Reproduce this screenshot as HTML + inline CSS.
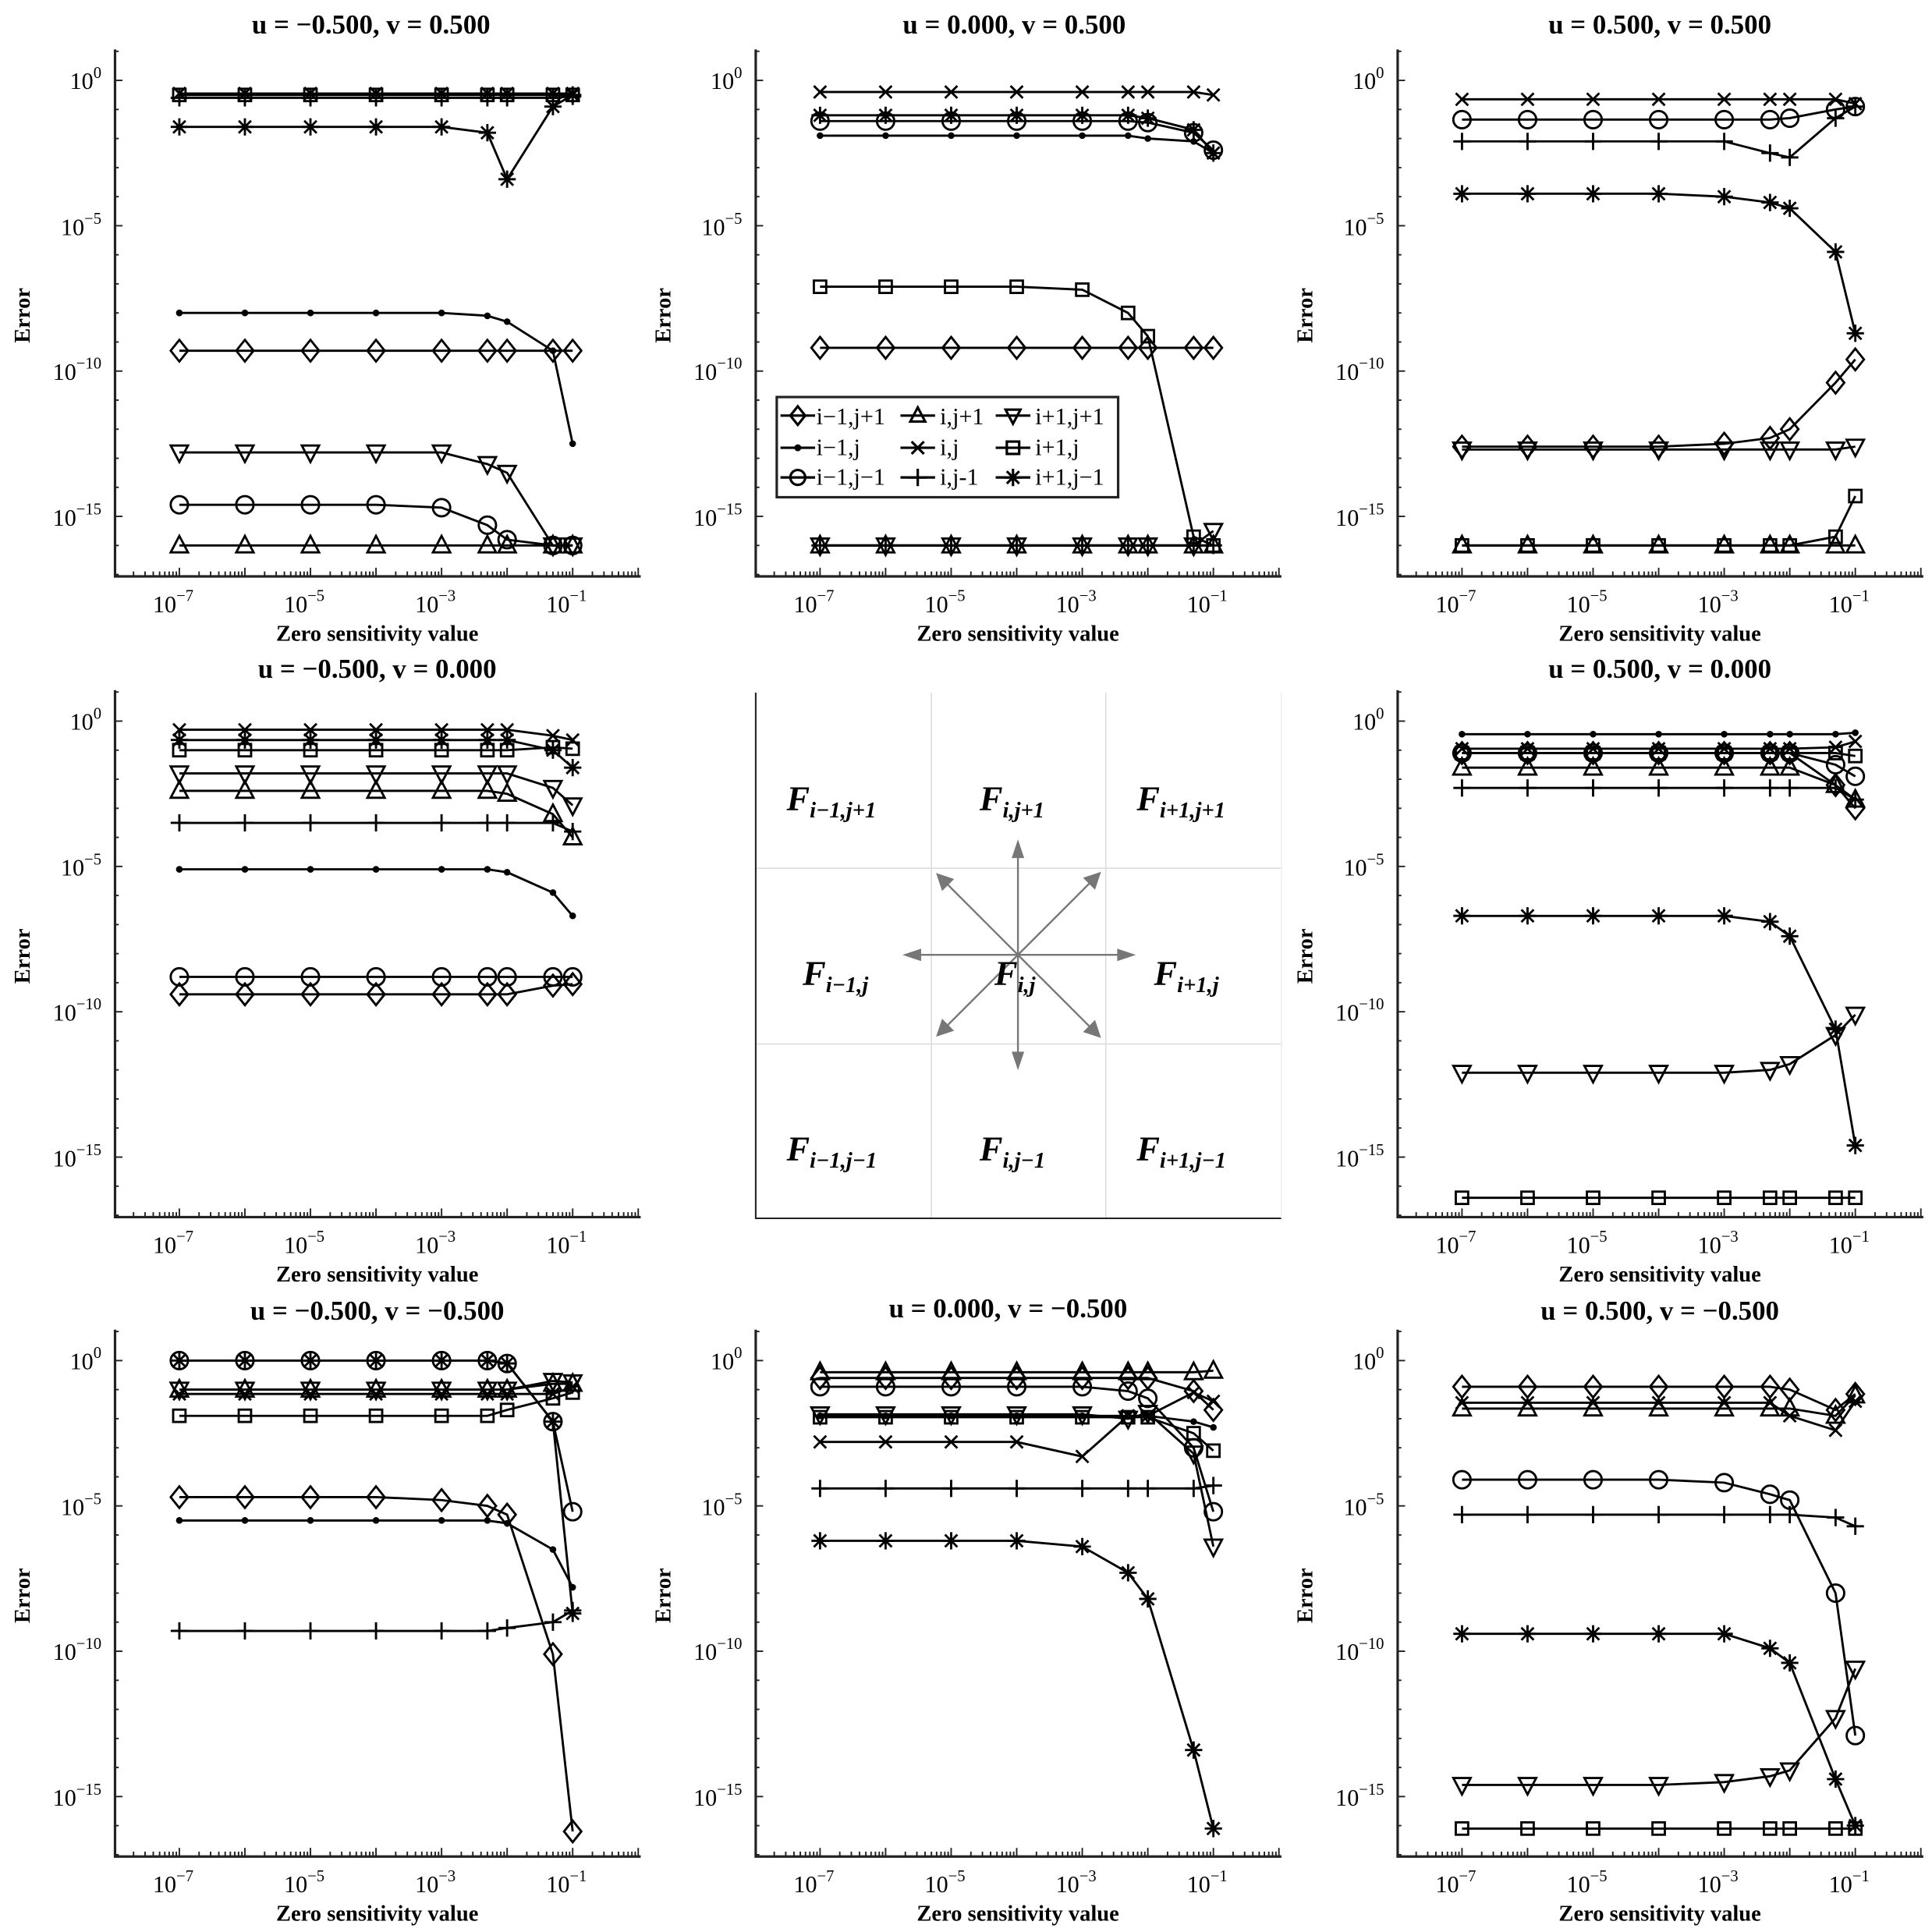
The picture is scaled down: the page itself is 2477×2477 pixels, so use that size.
<!DOCTYPE html>
<html><head><meta charset="utf-8"><style>
html,body{margin:0;padding:0;background:#fff}
svg{display:block}
text{font-family:"Liberation Serif",serif;fill:#000}
.t{font-weight:bold;font-size:22px}
.xl{font-weight:bold;font-size:18px}
.tk{font-size:19px}
.sp{font-size:13px}
.lg{font-size:19px}
.F{font-size:28px;font-weight:bold;font-style:italic}
.Fs{font-size:18px;font-style:italic;font-weight:bold}
</style></head><body>
<svg id="s" width="2477" height="2477" viewBox="0 0 1562 1562" xmlns="http://www.w3.org/2000/svg">
<rect width="1562" height="1562" fill="#fff"/>
<g id="axes"></g>
<g id="series"></g>

<g>
<text class="t" x="300" y="27" text-anchor="middle">u = −0.500, v = 0.500</text>
<text class="xl" x="305" y="518" text-anchor="middle">Zero sensitivity value</text>
<text class="xl" transform="translate(24,255) rotate(-90)" text-anchor="middle">Error</text>
<text class="tk" x="82" y="72" text-anchor="end">10<tspan class="sp" dy="-9">0</tspan></text>
<text class="tk" x="82" y="190" text-anchor="end">10<tspan class="sp" dy="-9">−5</tspan></text>
<text class="tk" x="82" y="307" text-anchor="end">10<tspan class="sp" dy="-9">−10</tspan></text>
<text class="tk" x="82" y="425" text-anchor="end">10<tspan class="sp" dy="-9">−15</tspan></text>
<text class="tk" x="140" y="495" text-anchor="middle">10<tspan class="sp" dy="-9">−7</tspan></text>
<text class="tk" x="246" y="495" text-anchor="middle">10<tspan class="sp" dy="-9">−5</tspan></text>
<text class="tk" x="352" y="495" text-anchor="middle">10<tspan class="sp" dy="-9">−3</tspan></text>
<text class="tk" x="458" y="495" text-anchor="middle">10<tspan class="sp" dy="-9">−1</tspan></text>
</g>
<g transform="translate(518,0)">
<text class="t" x="302" y="27" text-anchor="middle">u = 0.000, v = 0.500</text>
<text class="xl" x="305" y="518" text-anchor="middle">Zero sensitivity value</text>
<text class="xl" transform="translate(24,255) rotate(-90)" text-anchor="middle">Error</text>
<text class="tk" x="82" y="72" text-anchor="end">10<tspan class="sp" dy="-9">0</tspan></text>
<text class="tk" x="82" y="190" text-anchor="end">10<tspan class="sp" dy="-9">−5</tspan></text>
<text class="tk" x="82" y="307" text-anchor="end">10<tspan class="sp" dy="-9">−10</tspan></text>
<text class="tk" x="82" y="425" text-anchor="end">10<tspan class="sp" dy="-9">−15</tspan></text>
<text class="tk" x="140" y="495" text-anchor="middle">10<tspan class="sp" dy="-9">−7</tspan></text>
<text class="tk" x="246" y="495" text-anchor="middle">10<tspan class="sp" dy="-9">−5</tspan></text>
<text class="tk" x="352" y="495" text-anchor="middle">10<tspan class="sp" dy="-9">−3</tspan></text>
<text class="tk" x="458" y="495" text-anchor="middle">10<tspan class="sp" dy="-9">−1</tspan></text>
</g>
<g transform="translate(1037,0)">
<text class="t" x="305" y="27" text-anchor="middle">u = 0.500, v = 0.500</text>
<text class="xl" x="305" y="518" text-anchor="middle">Zero sensitivity value</text>
<text class="xl" transform="translate(24,255) rotate(-90)" text-anchor="middle">Error</text>
<text class="tk" x="82" y="72" text-anchor="end">10<tspan class="sp" dy="-9">0</tspan></text>
<text class="tk" x="82" y="190" text-anchor="end">10<tspan class="sp" dy="-9">−5</tspan></text>
<text class="tk" x="82" y="307" text-anchor="end">10<tspan class="sp" dy="-9">−10</tspan></text>
<text class="tk" x="82" y="425" text-anchor="end">10<tspan class="sp" dy="-9">−15</tspan></text>
<text class="tk" x="140" y="495" text-anchor="middle">10<tspan class="sp" dy="-9">−7</tspan></text>
<text class="tk" x="246" y="495" text-anchor="middle">10<tspan class="sp" dy="-9">−5</tspan></text>
<text class="tk" x="352" y="495" text-anchor="middle">10<tspan class="sp" dy="-9">−3</tspan></text>
<text class="tk" x="458" y="495" text-anchor="middle">10<tspan class="sp" dy="-9">−1</tspan></text>
</g>
<g transform="translate(0,518)">
<text class="t" x="305" y="30" text-anchor="middle">u = −0.500, v = 0.000</text>
<text class="xl" x="305" y="518" text-anchor="middle">Zero sensitivity value</text>
<text class="xl" transform="translate(24,255) rotate(-90)" text-anchor="middle">Error</text>
<text class="tk" x="82" y="72" text-anchor="end">10<tspan class="sp" dy="-9">0</tspan></text>
<text class="tk" x="82" y="190" text-anchor="end">10<tspan class="sp" dy="-9">−5</tspan></text>
<text class="tk" x="82" y="307" text-anchor="end">10<tspan class="sp" dy="-9">−10</tspan></text>
<text class="tk" x="82" y="425" text-anchor="end">10<tspan class="sp" dy="-9">−15</tspan></text>
<text class="tk" x="140" y="495" text-anchor="middle">10<tspan class="sp" dy="-9">−7</tspan></text>
<text class="tk" x="246" y="495" text-anchor="middle">10<tspan class="sp" dy="-9">−5</tspan></text>
<text class="tk" x="352" y="495" text-anchor="middle">10<tspan class="sp" dy="-9">−3</tspan></text>
<text class="tk" x="458" y="495" text-anchor="middle">10<tspan class="sp" dy="-9">−1</tspan></text>
</g>
<g transform="translate(1037,518)">
<text class="t" x="305" y="30" text-anchor="middle">u = 0.500, v = 0.000</text>
<text class="xl" x="305" y="518" text-anchor="middle">Zero sensitivity value</text>
<text class="xl" transform="translate(24,255) rotate(-90)" text-anchor="middle">Error</text>
<text class="tk" x="82" y="72" text-anchor="end">10<tspan class="sp" dy="-9">0</tspan></text>
<text class="tk" x="82" y="190" text-anchor="end">10<tspan class="sp" dy="-9">−5</tspan></text>
<text class="tk" x="82" y="307" text-anchor="end">10<tspan class="sp" dy="-9">−10</tspan></text>
<text class="tk" x="82" y="425" text-anchor="end">10<tspan class="sp" dy="-9">−15</tspan></text>
<text class="tk" x="140" y="495" text-anchor="middle">10<tspan class="sp" dy="-9">−7</tspan></text>
<text class="tk" x="246" y="495" text-anchor="middle">10<tspan class="sp" dy="-9">−5</tspan></text>
<text class="tk" x="352" y="495" text-anchor="middle">10<tspan class="sp" dy="-9">−3</tspan></text>
<text class="tk" x="458" y="495" text-anchor="middle">10<tspan class="sp" dy="-9">−1</tspan></text>
</g>
<g transform="translate(0,1035)">
<text class="t" x="305" y="32" text-anchor="middle">u = −0.500, v = −0.500</text>
<text class="xl" x="305" y="518" text-anchor="middle">Zero sensitivity value</text>
<text class="xl" transform="translate(24,255) rotate(-90)" text-anchor="middle">Error</text>
<text class="tk" x="82" y="72" text-anchor="end">10<tspan class="sp" dy="-9">0</tspan></text>
<text class="tk" x="82" y="190" text-anchor="end">10<tspan class="sp" dy="-9">−5</tspan></text>
<text class="tk" x="82" y="307" text-anchor="end">10<tspan class="sp" dy="-9">−10</tspan></text>
<text class="tk" x="82" y="425" text-anchor="end">10<tspan class="sp" dy="-9">−15</tspan></text>
<text class="tk" x="140" y="495" text-anchor="middle">10<tspan class="sp" dy="-9">−7</tspan></text>
<text class="tk" x="246" y="495" text-anchor="middle">10<tspan class="sp" dy="-9">−5</tspan></text>
<text class="tk" x="352" y="495" text-anchor="middle">10<tspan class="sp" dy="-9">−3</tspan></text>
<text class="tk" x="458" y="495" text-anchor="middle">10<tspan class="sp" dy="-9">−1</tspan></text>
</g>
<g transform="translate(518,1035)">
<text class="t" x="297" y="30" text-anchor="middle">u = 0.000, v = −0.500</text>
<text class="xl" x="305" y="518" text-anchor="middle">Zero sensitivity value</text>
<text class="xl" transform="translate(24,255) rotate(-90)" text-anchor="middle">Error</text>
<text class="tk" x="82" y="72" text-anchor="end">10<tspan class="sp" dy="-9">0</tspan></text>
<text class="tk" x="82" y="190" text-anchor="end">10<tspan class="sp" dy="-9">−5</tspan></text>
<text class="tk" x="82" y="307" text-anchor="end">10<tspan class="sp" dy="-9">−10</tspan></text>
<text class="tk" x="82" y="425" text-anchor="end">10<tspan class="sp" dy="-9">−15</tspan></text>
<text class="tk" x="140" y="495" text-anchor="middle">10<tspan class="sp" dy="-9">−7</tspan></text>
<text class="tk" x="246" y="495" text-anchor="middle">10<tspan class="sp" dy="-9">−5</tspan></text>
<text class="tk" x="352" y="495" text-anchor="middle">10<tspan class="sp" dy="-9">−3</tspan></text>
<text class="tk" x="458" y="495" text-anchor="middle">10<tspan class="sp" dy="-9">−1</tspan></text>
</g>
<g transform="translate(1037,1035)">
<text class="t" x="305" y="32" text-anchor="middle">u = 0.500, v = −0.500</text>
<text class="xl" x="305" y="518" text-anchor="middle">Zero sensitivity value</text>
<text class="xl" transform="translate(24,255) rotate(-90)" text-anchor="middle">Error</text>
<text class="tk" x="82" y="72" text-anchor="end">10<tspan class="sp" dy="-9">0</tspan></text>
<text class="tk" x="82" y="190" text-anchor="end">10<tspan class="sp" dy="-9">−5</tspan></text>
<text class="tk" x="82" y="307" text-anchor="end">10<tspan class="sp" dy="-9">−10</tspan></text>
<text class="tk" x="82" y="425" text-anchor="end">10<tspan class="sp" dy="-9">−15</tspan></text>
<text class="tk" x="140" y="495" text-anchor="middle">10<tspan class="sp" dy="-9">−7</tspan></text>
<text class="tk" x="246" y="495" text-anchor="middle">10<tspan class="sp" dy="-9">−5</tspan></text>
<text class="tk" x="352" y="495" text-anchor="middle">10<tspan class="sp" dy="-9">−3</tspan></text>
<text class="tk" x="458" y="495" text-anchor="middle">10<tspan class="sp" dy="-9">−1</tspan></text>
</g>

<g>
<rect x="611" y="560" width="425" height="425" fill="#fff" stroke="none"/>
<line x1="753" y1="560" x2="753" y2="985" stroke="#ddd" stroke-width="1"/>
<line x1="894" y1="560" x2="894" y2="985" stroke="#ddd" stroke-width="1"/>
<line x1="611" y1="702" x2="1036" y2="702" stroke="#ddd" stroke-width="1"/>
<line x1="611" y1="844" x2="1036" y2="844" stroke="#ddd" stroke-width="1"/>
<polyline points="611,560 611,985 1036,985" fill="none" stroke="#222" stroke-width="1.3"/>
<line x1="1036" y1="560" x2="1036" y2="985" stroke="#eee" stroke-width="1"/>
<g stroke="#777" stroke-width="1.5" fill="#777">
<line x1="823" y1="772" x2="823" y2="686"/><line x1="823" y1="772" x2="823" y2="858"/>
<line x1="823" y1="772" x2="737" y2="772"/><line x1="823" y1="772" x2="911" y2="772"/>
<line x1="823" y1="772" x2="763" y2="712"/><line x1="823" y1="772" x2="885" y2="710"/>
<line x1="823" y1="772" x2="763" y2="832"/><line x1="823" y1="772" x2="885" y2="834"/>
<polygon points="823,681 819,693 827,693"/><polygon points="823,863 819,851 827,851"/>
<polygon points="732,772 744,768 744,776"/><polygon points="916,772 904,768 904,776"/>
<polygon points="758,707 762,719 770,711"/><polygon points="889,706 877,710 885,718"/>
<polygon points="758,837 770,833 762,825"/><polygon points="889,838 885,826 877,834"/>
</g>
<text class="F" x="636" y="655">F<tspan class="Fs" dy="6">i−1,j+1</tspan></text>
<text class="F" x="792" y="655">F<tspan class="Fs" dy="6">i,j+1</tspan></text>
<text class="F" x="919" y="655">F<tspan class="Fs" dy="6">i+1,j+1</tspan></text>
<text class="F" x="649" y="796">F<tspan class="Fs" dy="6">i−1,j</tspan></text>
<text class="F" x="804" y="796">F<tspan class="Fs" dy="6">i,j</tspan></text>
<text class="F" x="933" y="796">F<tspan class="Fs" dy="6">i+1,j</tspan></text>
<text class="F" x="636" y="938">F<tspan class="Fs" dy="6">i−1,j−1</tspan></text>
<text class="F" x="792" y="938">F<tspan class="Fs" dy="6">i,j−1</tspan></text>
<text class="F" x="919" y="938">F<tspan class="Fs" dy="6">i+1,j−1</tspan></text>
</g>

<g>
<rect x="628" y="321" width="276" height="81" fill="#fff" stroke="#222" stroke-width="2"/>
<g id="legm"></g>
<text class="lg" x="660" y="343">i−1,j+1</text>
<text class="lg" x="760" y="343">i,j+1</text>
<text class="lg" x="837" y="343">i+1,j+1</text>
<text class="lg" x="660" y="368">i−1,j</text>
<text class="lg" x="760" y="368">i,j</text>
<text class="lg" x="837" y="368">i+1,j</text>
<text class="lg" x="660" y="392">i−1,j−1</text>
<text class="lg" x="760" y="392">i,j-1</text>
<text class="lg" x="837" y="392">i+1,j−1</text>
</g>
</svg>
<script>
const LX=[-7,-6,-5,-4,-3,Math.log10(5e-3),-2,Math.log10(5e-2),-1];
const X=l=>145+(l+7)*53, Y=e=>65-e*23.5;
function mk(t,x,y,s){s=s||7;
 switch(t){
 case'd':return `<path d="M${x},${y-s*1.25}L${x+s},${y}L${x},${y+s*1.25}L${x-s},${y}Z" fill="none"/>`;
 case'^':return `<path d="M${x},${y-s*1.1}L${x+s},${y+s*0.8}L${x-s},${y+s*0.8}Z" fill="none"/>`;
 case'v':return `<path d="M${x},${y+s*1.1}L${x+s},${y-s*0.8}L${x-s},${y-s*0.8}Z" fill="none"/>`;
 case'.':return `<circle cx="${x}" cy="${y}" r="1.8" fill="#000"/>`;
 case'x':return `<path d="M${x-5},${y-5}L${x+5},${y+5}M${x-5},${y+5}L${x+5},${y-5}" fill="none"/>`;
 case's':return `<rect x="${x-5}" y="${y-5}" width="10" height="10" fill="none"/>`;
 case'o':return `<circle cx="${x}" cy="${y}" r="${s}" fill="none"/>`;
 case'+':return `<path d="M${x-7},${y}L${x+7},${y}M${x},${y-7}L${x},${y+7}" fill="none"/>`;
 case'*':return `<path d="M${x-7},${y}L${x+7},${y}M${x},${y-7}L${x},${y+7}M${x-5},${y-5}L${x+5},${y+5}M${x-5},${y+5}L${x+5},${y-5}" fill="none"/>`;
 }}
function f(v,o){const a=Array(9).fill(v);if(o)for(const k in o)a[k]=o[k];return a;}
const P=[
 [0,0,{d:f(-9.3),'^':f(-16),v:f(-12.8,{5:-13.2,6:-13.5,7:-16,8:-16}),'.':f(-8,{5:-8.1,6:-8.3,7:-9.3,8:-12.5}),
  x:f(-0.45),s:f(-0.5),o:f(-14.6,{4:-14.7,5:-15.3,6:-15.8,7:-16,8:-16}),'+':f(-0.6,{8:-0.55}),'*':f(-1.6,{5:-1.8,6:-3.4,7:-0.9,8:-0.5})}],
 [518,0,{d:f(-9.2),'^':f(-16),v:f(-16,{8:-15.5}),'.':f(-1.9,{6:-2,7:-2.1,8:-2.5}),x:f(-0.4,{8:-0.5}),
  s:f(-7.1,{4:-7.2,5:-8,6:-8.8,7:-15.7,8:-16}),o:f(-1.4,{6:-1.45,7:-1.8,8:-2.4}),'+':f(-16),'*':f(-1.2,{6:-1.3,7:-1.7,8:-2.5})}],
 [1037,0,{d:f(-12.6,{4:-12.5,5:-12.3,6:-12,7:-10.4,8:-9.6}),'^':f(-16),v:f(-12.7,{8:-12.6}),x:f(-0.65,{8:-0.8}),
  s:f(-16,{7:-15.7,8:-14.3}),o:f(-1.35,{6:-1.3,7:-1,8:-0.9}),'+':f(-2.1,{5:-2.5,6:-2.65,7:-1.3,8:-0.9}),
  '*':f(-3.9,{4:-4,5:-4.2,6:-4.4,7:-5.9,8:-8.7})}],
 [0,518,{x:f(-0.3,{7:-0.5,8:-0.65}),'*':f(-0.65,{7:-1,8:-1.6}),s:f(-1,{7:-0.9,8:-0.95}),o:f(-8.8),
  v:f(-1.8,{7:-2.3,8:-2.9}),'^':f(-2.4,{6:-2.5,7:-3.2,8:-4}),'+':f(-3.5,{8:-3.8}),
  '.':f(-5.1,{6:-5.2,7:-5.9,8:-6.7}),d:f(-9.4,{7:-9.1,8:-9.05})}],
 [1037,518,{'.':f(-0.45,{8:-0.4}),x:f(-0.95,{7:-0.9,8:-0.7}),s:f(-1.1,{8:-1.2}),o:f(-1.1,{7:-1.5,8:-1.9}),d:f(-1.1,{7:-2.2,8:-3}),
  '^':f(-1.6,{7:-2.2,8:-2.7}),'+':f(-2.3,{8:-2.7}),'*':f(-6.7,{5:-6.9,6:-7.4,7:-10.6,8:-14.6}),
  v:f(-12.1,{5:-12,6:-11.8,7:-10.8,8:-10.1})}],
 [1037,518,{s:f(-16.4)}],
 [0,1035,{o:f(0,{6:-0.1,7:-2.1,8:-5.2}),'*':f(0,{6:-0.1,7:-2.1,8:-8.7}),v:f(-1,{7:-0.7,8:-0.75}),x:f(-1.15,{8:-0.9}),
  '^':f(-1.0,{7:-0.8,8:-0.8}),s:f(-1.9,{6:-1.7,7:-1.3,8:-1.1}),d:f(-4.7,{4:-4.8,5:-5,6:-5.3,7:-10.1,8:-16.2}),
  '.':f(-5.5,{6:-5.6,7:-6.5,8:-7.8}),'+':f(-9.3,{6:-9.2,7:-9,8:-8.6})}],
 [518,1035,{'^':f(-0.4,{8:-0.35}),d:f(-0.6,{7:-1.05,8:-1.7}),o:f(-0.9,{5:-1.05,6:-1.3,7:-3,8:-5.2}),
  v:f(-1.85,{5:-2,6:-1.8,7:-3.2,8:-6.4}),'.':f(-1.9,{7:-2.1,8:-2.3}),s:f(-1.95,{7:-2.5,8:-3.1}),
  x:f(-2.8,{4:-3.3,5:-1.9,6:-1.9,7:-1.1,8:-1.4}),'+':f(-4.4,{8:-4.3}),'*':f(-6.2,{4:-6.4,5:-7.3,6:-8.2,7:-13.4,8:-16.1})}],
 [1037,1035,{d:f(-0.9,{6:-1,7:-1.7,8:-1.15}),'^':f(-1.65,{7:-1.9,8:-1.2}),x:f(-1.45,{6:-1.9,7:-2.4,8:-1.4}),
  o:f(-4.1,{4:-4.2,5:-4.6,6:-4.8,7:-8,8:-12.9}),'+':f(-5.3,{7:-5.4,8:-5.7}),
  '*':f(-9.4,{5:-9.9,6:-10.4,7:-14.4,8:-16}),v:f(-14.6,{4:-14.5,5:-14.3,6:-14.1,7:-12.3,8:-10.6}),s:f(-16.1)}]
];
let ser='';
for(const [dx,dy,S] of P){
 let g=`<g transform="translate(${dx},${dy})" stroke="#000" stroke-width="1.8">`;
 for(const t in S){const a=S[t];
  g+=`<polyline fill="none" points="${a.map((e,i)=>X(LX[i]).toFixed(1)+','+Y(e).toFixed(1)).join(' ')}"/>`;
  a.forEach((e,i)=>g+=mk(t,X(LX[i]),Y(e)));}
 ser+=g+'</g>';}
document.getElementById('series').innerHTML=ser;
let ax='';
const offs=[[0,0],[518,0],[1037,0],[0,518],[1037,518],[0,1035],[518,1035],[1037,1035]];
for(const [dx,dy] of offs){
 let g=`<g transform="translate(${dx},${dy})" stroke="#222" fill="none">`;
 g+=`<polyline points="93,40 93,466 518,466" stroke-width="2"/>`;
 for(let e=1;e>=-17;e--){const y=Y(e);if(y<40||y>466)continue;g+=`<line x1="93" y1="${y}" x2="${e%5==0?99:96}" y2="${y}" stroke-width="1.2"/>`;}
 for(let d=-8;d<=1;d++){for(let m=1;m<10;m++){const x=X(d+Math.log10(m));if(x<93||x>518)continue;
   g+=`<line x1="${x}" y1="466" x2="${x}" y2="${m==1?459:462}" stroke-width="1.2"/>`;}}
 ax+=g+'</g>';}
document.getElementById('axes').innerHTML=ax;
const L=[['d',631,336],['^',728,336],['v',805,336],['.',631,362],['x',728,362],['s',805,362],['o',631,386],['+',728,386],['*',805,386]];
let lg='<g stroke="#000" stroke-width="2">';
for(const [t,x,y] of L){lg+=`<line x1="${x}" y1="${y}" x2="${x+28}" y2="${y}"/>`+mk(t,x+14,y,6);}
document.getElementById('legm').innerHTML=lg+'</g>';
</script>
</body></html>
